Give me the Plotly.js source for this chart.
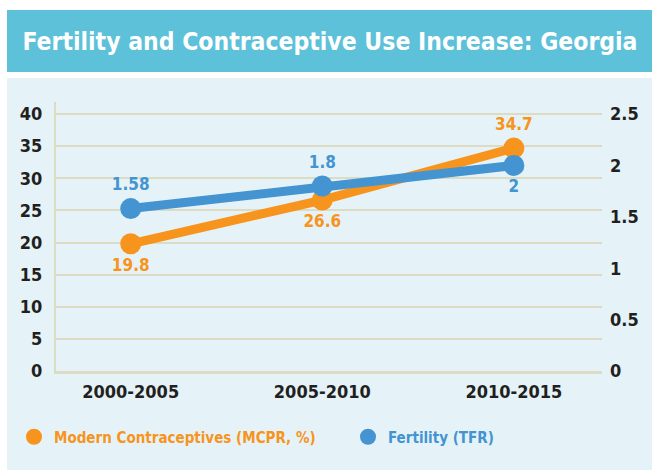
<!DOCTYPE html>
<html>
<head>
<meta charset="utf-8">
<script src="https://cdn.plot.ly/plotly-3.0.1.min.js"></script>
<style>html,body{margin:0;padding:0;background:#fff}#chart{width:652px;height:470px}</style>
</head>
<body>
<div id="chart"></div>
<script>
var categories = ["2000-2005", "2005-2010", "2010-2015"];
var mcprValues = [19.8, 26.6, 34.7];
var tfrValues = [1.58, 1.8, 2];
var mcprName = "Modern Contraceptives (MCPR, %)";
var tfrName = "Fertility (TFR)";
var titleText = "Fertility and Contraceptive Use Increase: Georgia";
var leftTicks = [0, 5, 10, 15, 20, 25, 30, 35, 40];
var rightTicks = [0, 0.5, 1, 1.5, 2, 2.5];

var ORANGE = "#f7941d", BLUE = "#4394d0", GRID = "#dcdcc4", DARK = "#231f20";
var FONT = "DejaVu Sans Condensed, Liberation Sans Narrow, sans-serif";

var traces = [
  {x: categories, y: mcprValues, type: "scatter", mode: "lines+markers+text",
   line: {color: ORANGE, width: 9}, marker: {color: ORANGE, size: 21},
   text: mcprValues.map(String), textposition: ["bottom center", "bottom center", "top center"],
   textfont: {family: FONT, size: 17, color: ORANGE, weight: 700},
   showlegend: false, hoverinfo: "skip", cliponaxis: false},
  {x: categories, y: tfrValues, type: "scatter", mode: "lines+markers+text", yaxis: "y2",
   line: {color: BLUE, width: 9}, marker: {color: BLUE, size: 21},
   text: tfrValues.map(String), textposition: ["top center", "top center", "bottom center"],
   textfont: {family: FONT, size: 17, color: BLUE, weight: 700},
   showlegend: false, hoverinfo: "skip", cliponaxis: false},
  {x: [null], y: [null], type: "scatter", mode: "markers", name: mcprName,
   marker: {color: ORANGE, size: 20}, showlegend: true},
  {x: [null], y: [null], type: "scatter", mode: "markers", name: tfrName, yaxis: "y2",
   marker: {color: BLUE, size: 20}, showlegend: true, legend: "legend2"}
];

var pw = 546, ph = 269, L = 56, T = 102;
function px(x){ return (x - L) / pw; }
function py(y){ return (T + ph - y) / ph; }

var layout = {
  width: 652, height: 470,
  margin: {l: 56, r: 50, t: 102, b: 99},
  paper_bgcolor: "#ffffff", plot_bgcolor: "rgba(0,0,0,0)",
  font: {family: FONT, color: DARK},
  title: {text: titleText, font: {family: FONT, size: 24.5, color: "#ffffff", weight: 700},
          xref: "container", yref: "container", x: 330/652, xanchor: "center", y: 1 - 41/470, yanchor: "middle"},
  xaxis: {type: "category", range: [-0.39, 2.46], showgrid: false, zeroline: false,
          showline: true, linecolor: GRID, linewidth: 3, ticks: "", ticklabelstandoff: 2,
          tickfont: {family: FONT, size: 18, color: DARK, weight: 700}, fixedrange: true},
  yaxis: {range: [0, 41.87], tickvals: leftTicks, ticktext: leftTicks.map(String),
          showgrid: true, gridcolor: GRID, gridwidth: 2, zeroline: false,
          showline: true, linecolor: GRID, linewidth: 2, ticks: "", ticklabelstandoff: 8,
          tickfont: {family: FONT, size: 18, color: DARK, weight: 700}},
  yaxis2: {range: [0, 2.617], overlaying: "y", side: "right", tickvals: rightTicks,
          ticktext: rightTicks.map(String), showgrid: false, zeroline: false, showline: false,
          ticks: "", ticklabelstandoff: 7,
          tickfont: {family: FONT, size: 18, color: DARK, weight: 700}},
  legend: {orientation: "h", x: px(14), y: py(437), xanchor: "left", yanchor: "middle",
           bgcolor: "rgba(0,0,0,0)", font: {family: FONT, size: 15, color: ORANGE, weight: 700}},
  legend2: {orientation: "h", x: px(348), y: py(437), xanchor: "left", yanchor: "middle",
           bgcolor: "rgba(0,0,0,0)", font: {family: FONT, size: 15, color: BLUE, weight: 700}},
  shapes: [
    {type: "rect", xref: "paper", yref: "paper", x0: px(7), x1: px(652), y0: py(72), y1: py(10),
     fillcolor: "#5cc1d9", line: {width: 0}, layer: "below"},
    {type: "rect", xref: "paper", yref: "paper", x0: px(7), x1: px(652), y0: py(470), y1: py(78),
     fillcolor: "#e5f3f8", line: {width: 0}, layer: "below"}
  ]
};

Plotly.newPlot("chart", traces, layout, {displayModeBar: false, staticPlot: true});
</script>
</body>
</html>
